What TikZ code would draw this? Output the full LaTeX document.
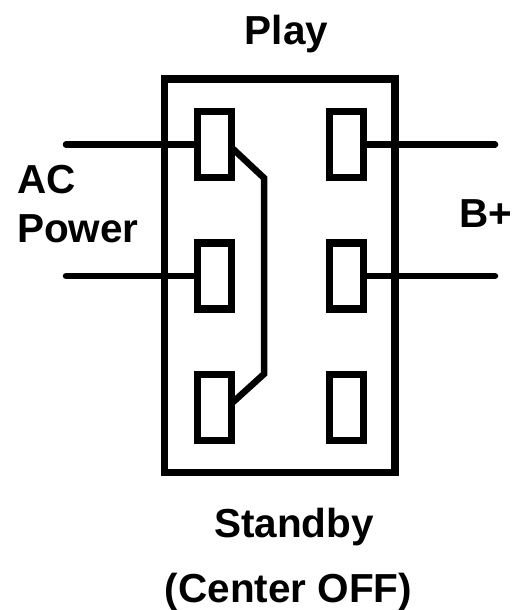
\documentclass[tikz,border=0pt]{standalone}
\usepackage{fontspec}
\setmainfont{Liberation Sans}
\tikzset{
  lbl/.style={font=\bfseries\fontsize{40.5}{46}\selectfont,inner sep=0pt,text=black,anchor=base},
  term/.style={draw=black,line width=7.5pt,minimum width=34pt,minimum height=66pt,inner sep=0pt,outer sep=0pt},
  wire/.style={draw=black,line width=6.5pt}
}
\begin{document}
\begin{tikzpicture}[x=1pt,y=-1pt,line cap=butt]
\useasboundingbox (0,0) rectangle (513,610);
\coordinate (w1) at (66,144.5);
\coordinate (w2) at (66,276);
\coordinate (w3) at (495,144.5);
\coordinate (w4) at (495,276);
\coordinate (k1) at (264,178);
\coordinate (k2) at (264,374);
\node[term] (t1) at (214.5,144.5) {};
\node[term] (t2) at (214.5,276) {};
\node[term] (t3) at (214.5,407.5) {};
\node[term] (t4) at (346.5,144.5) {};
\node[term] (t5) at (346.5,276) {};
\node[term] (t6) at (346.5,407.5) {};
\node[draw=black,line width=7.5pt,minimum width=230.5pt,minimum height=393.5pt,inner sep=0pt,outer sep=0pt] (body) at (279.75,275.75) {};
\draw[wire,line cap=round] (w1) -- (t1.west);
\draw[wire,line cap=round] (w2) -- (t2.west);
\draw[wire,line cap=round] (w3) -- (t4.east);
\draw[wire,line cap=round] (w4) -- (t5.east);
\draw[wire,line join=miter] ([yshift=-3pt]t1.east) -- (k1) -- (k2) -- ([yshift=4pt]t3.east);
\node[lbl] (play) at (286.5,45) {Play};
\node[lbl,anchor=base west] (ac) at (17,193) {AC};
\node[lbl,anchor=base west] (power) at (17,242) {Power};
\node[lbl,anchor=base west] (bplus) at (459,227) {B+};
\node[lbl] (standby) at (294,537) {Standby};
\node[lbl] (center) at (288.5,602) {(Center OFF)};
\end{tikzpicture}
\end{document}
